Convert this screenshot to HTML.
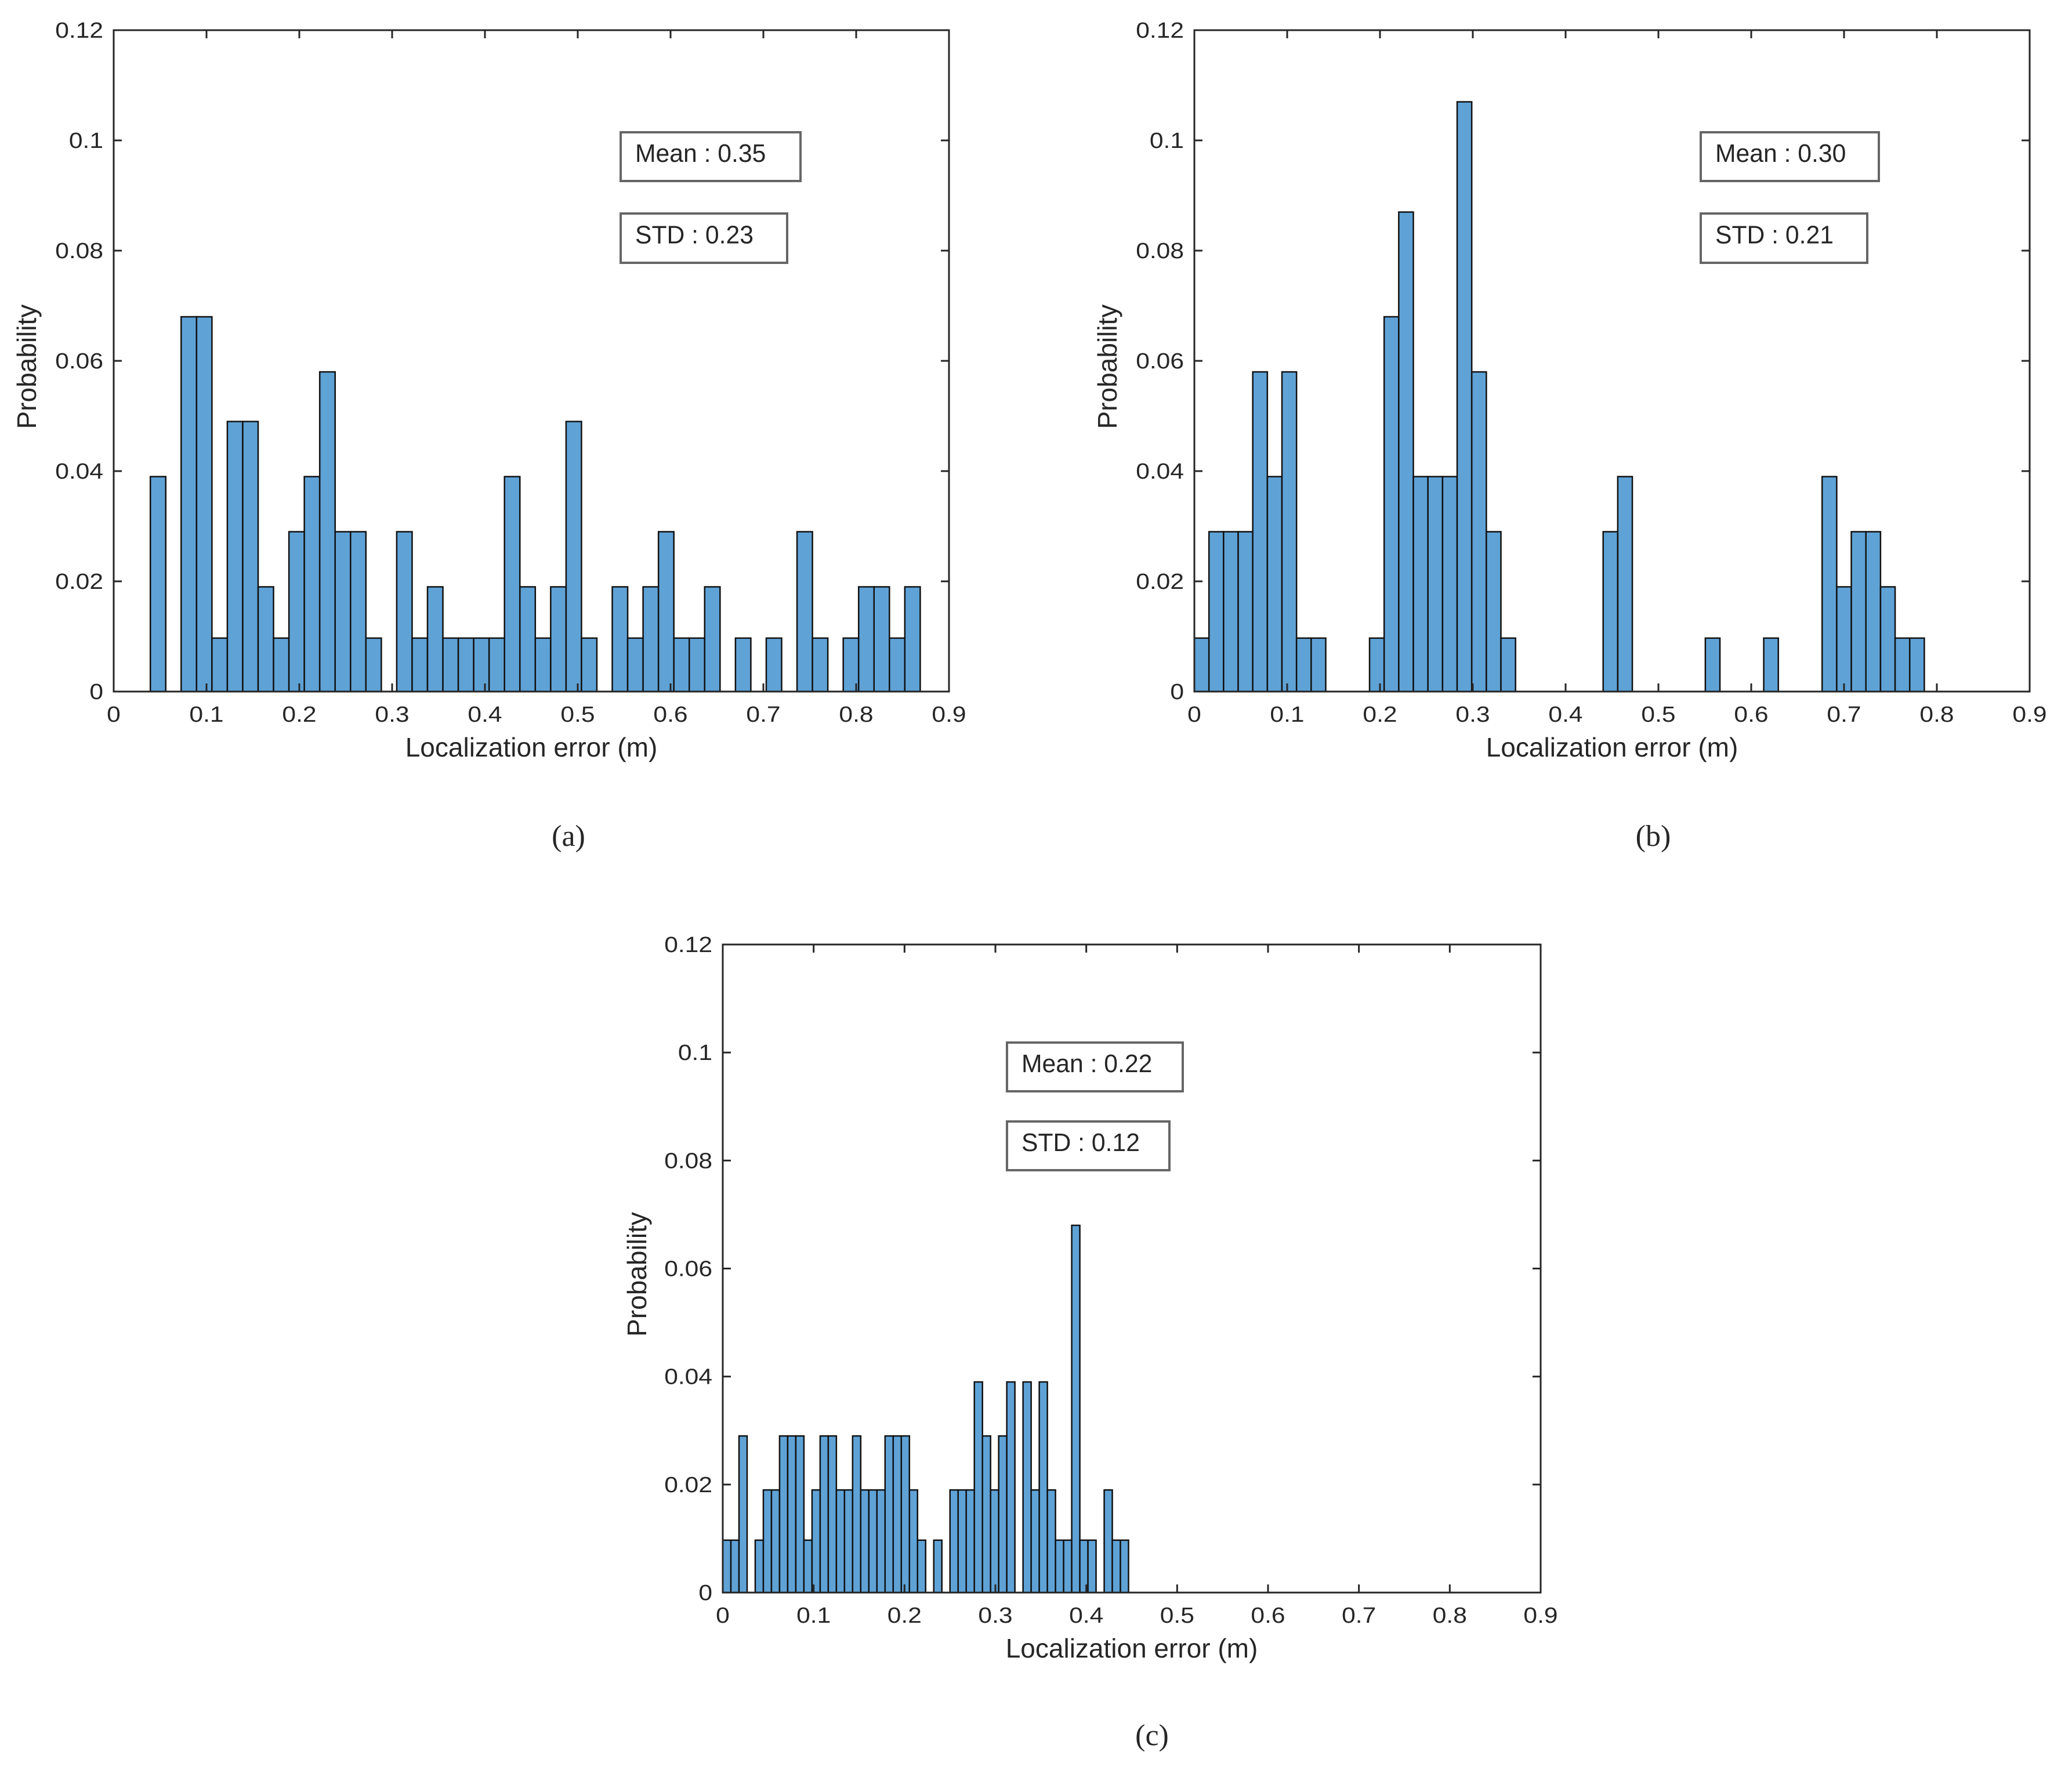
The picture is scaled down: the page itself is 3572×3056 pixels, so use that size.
<!DOCTYPE html>
<html><head><meta charset="utf-8"><style>
html,body{margin:0;padding:0;background:#fff;}
svg{display:block;}
text{font-family:"Liberation Sans",sans-serif;fill:#262626;}
</style></head>
<body>
<svg id="fig" width="3572" height="3056" viewBox="0 0 3572 3056" xmlns="http://www.w3.org/2000/svg"></svg>
<script>
// Histogram (a): 50 bins starting at 0.0395, width 0.01659
const binsAStart = 0.0395, binsAWidth = 0.01659;
const valuesA = [0.039,0,0.068,0.068,0.0097,0.049,0.049,0.019,0.0097,0.029,0.039,0.058,0.029,0.029,0.0097,0,0.029,0.0097,0.019,0.0097,0.0097,0.0097,0.0097,0.039,0.019,0.0097,0.019,0.049,0.0097,0,0.019,0.0097,0.019,0.029,0.0097,0.0097,0.019,0,0.0097,0,0.0097,0,0.029,0.0097,0,0.0097,0.019,0.019,0.0097,0.019];
// Histogram (b): 50 bins starting at 0, width 0.01573
const binsBStart = 0, binsBWidth = 0.01573;
const valuesB = [0.0097,0.029,0.029,0.029,0.058,0.039,0.058,0.0097,0.0097,0,0,0,0.0097,0.068,0.087,0.039,0.039,0.039,0.107,0.058,0.029,0.0097,0,0,0,0,0,0,0.029,0.039,0,0,0,0,0,0.0097,0,0,0,0.0097,0,0,0,0.039,0.019,0.029,0.029,0.019,0.0097,0.0097];
// Histogram (c): 50 bins starting at 0, width 0.00893
const binsCStart = 0, binsCWidth = 0.00893;
const valuesC = [0.0097,0.0097,0.029,0,0.0097,0.019,0.019,0.029,0.029,0.029,0.0097,0.019,0.029,0.029,0.019,0.019,0.029,0.019,0.019,0.019,0.029,0.029,0.029,0.019,0.0097,0,0.0097,0,0.019,0.019,0.019,0.039,0.029,0.019,0.029,0.039,0,0.039,0.019,0.039,0.019,0.0097,0.0097,0.068,0.0097,0.0097,0,0.019,0.0097,0.0097];
const xTicks = [0,0.1,0.2,0.3,0.4,0.5,0.6,0.7,0.8,0.9];
const xTickLabels = ["0","0.1","0.2","0.3","0.4","0.5","0.6","0.7","0.8","0.9"];
const yTicks = [0,0.02,0.04,0.06,0.08,0.1,0.12];
const yTickLabels = ["0","0.02","0.04","0.06","0.08","0.1","0.12"];
const statsA = ["Mean : 0.35","STD : 0.23"];
const statsB = ["Mean : 0.30","STD : 0.21"];
const statsC = ["Mean : 0.22","STD : 0.12"];

const NS="http://www.w3.org/2000/svg";
const svg=document.getElementById('fig');
function mk(tag,attrs,parent){const e=document.createElementNS(NS,tag);for(const k in attrs)e.setAttribute(k,attrs[k]);(parent||svg).appendChild(e);return e;}
function txt(parent,x,y,s,size,anchor,sx,extra){
  const g=mk('g',{transform:`translate(${x},${y}) scale(${sx},1)`},parent);
  const t=mk('text',Object.assign({x:0,y:0,'font-size':size,'text-anchor':anchor},extra||{}),g);
  t.textContent=s;return t;
}
function chart(id,L,T,R,B,start,width,vals,stats,boxes,caption,capX,capY,probX){
  const g=mk('g',{});
  
  
  const xs=v=>L+(v/0.9)*(R-L);
  const ys=v=>B-(v/0.12)*(B-T);
  vals.forEach((v,i)=>{
    if(v<=0)return;
    const x0=xs(start+i*width),x1=xs(start+(i+1)*width);
    const r=mk('rect',{x:x0,y:ys(v),width:x1-x0,height:B-ys(v),fill:'#5fa2d6',stroke:'#111','stroke-width':2.5},g);
    
    
  });
  const f=mk('rect',{x:L,y:T,width:R-L,height:B-T,fill:'none',stroke:'#262626','stroke-width':3},g);
  
  
  xTicks.forEach((v,i)=>{
    const x=xs(v);
    mk('line',{x1:x,y1:B,x2:x,y2:B-14,stroke:'#262626','stroke-width':3},g);
    mk('line',{x1:x,y1:T,x2:x,y2:T+14,stroke:'#262626','stroke-width':3},g);
    const t=txt(g,x,B+52,xTickLabels[i],38,'middle',1.12);
    
    
  });
  yTicks.forEach((v,i)=>{
    const y=ys(v);
    mk('line',{x1:L,y1:y,x2:L+14,y2:y,stroke:'#262626','stroke-width':3},g);
    mk('line',{x1:R,y1:y,x2:R-14,y2:y,stroke:'#262626','stroke-width':3},g);
    const t=txt(g,L-18,y+13,yTickLabels[i],38,'end',1.12);
    
    
  });
  const xt=txt(g,(L+R)/2,B+112,'Localization error (m)',46,'middle',1.0);
  
  
  const yg=mk('g',{transform:`translate(${probX},${(T+B)/2+10}) rotate(-90)`},g);
  const yt=mk('text',{x:0,y:0,'font-size':46,'text-anchor':'middle'},yg);
  yt.textContent='Probability';
  
  
  stats.forEach((s,i)=>{
    const b=boxes[i];
    const r=mk('rect',{x:b[0],y:b[1],width:b[2],height:b[3],fill:'#fff',stroke:'#666','stroke-width':4},g);
    
    
    const t=txt(g,b[0]+25,b[1]+b[3]/2+9,s,44,'start',0.97,{fill:'#111'});
    
    
  });
  const c=mk('text',{x:capX,y:capY,'font-size':52,'text-anchor':'middle',style:'font-family:"Liberation Serif",serif'},g);
  c.textContent=caption;
  
  
}
chart('a',196,52,1636,1192,binsAStart,binsAWidth,valuesA,statsA,[[1070,228,310,84],[1070,368,287,85]],'(a)',980,1458,62);
chart('b',2059,52,3499,1192,binsBStart,binsBWidth,valuesB,statsB,[[2932,228,307,84],[2932,368,287,85]],'(b)',2850,1458,1925);
chart('c',1246,1628,2656,2745,binsCStart,binsCWidth,valuesC,statsC,[[1736,1797,303,84],[1736,1933,280,84]],'(c)',1986,3008,1114);
</script>
</body></html>
